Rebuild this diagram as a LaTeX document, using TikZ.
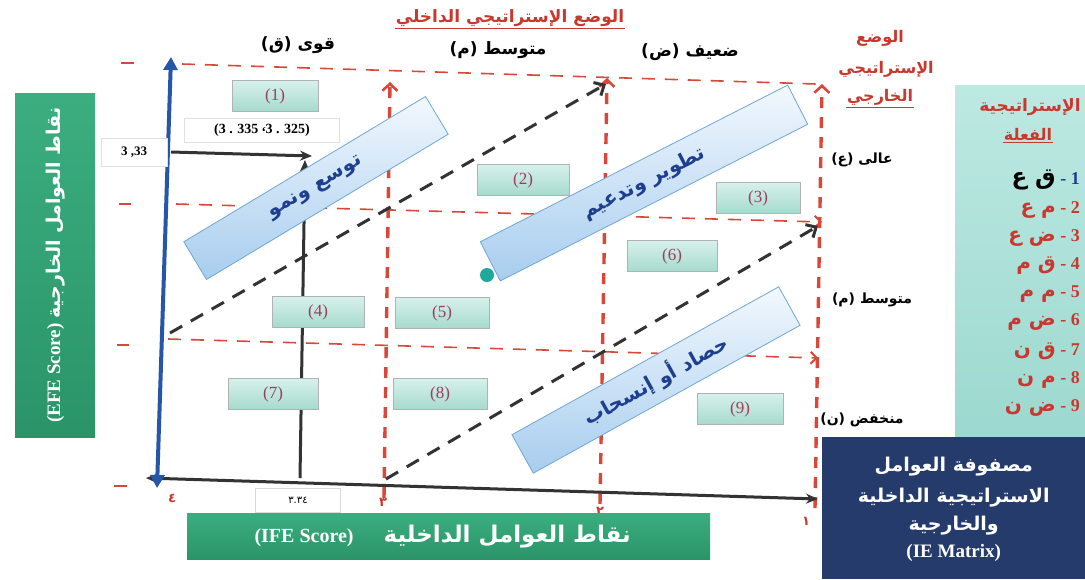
\documentclass[tikz,border=0pt]{standalone}
\usepackage{fontspec}
\setmainfont{Liberation Serif}
\newfontfamily\ar[Script=Arabic]{DejaVu Sans}
\TeXXeTstate=1
\usetikzlibrary{arrows.meta}
\definecolor{rd}{HTML}{D9473A}
\definecolor{rdtxt}{HTML}{C9382E}
\definecolor{bluax}{HTML}{2556A8}
\definecolor{axgray}{HTML}{333333}
\definecolor{cellA}{HTML}{D6F1EB}
\definecolor{cellB}{HTML}{A6DACE}
\definecolor{numc}{HTML}{9A3E5A}
\definecolor{banA}{HTML}{F2F8FE}
\definecolor{banB}{HTML}{A7CDEE}
\definecolor{banE}{HTML}{6FA6D6}
\definecolor{bantx}{HTML}{1E3F8E}
\definecolor{grnA}{HTML}{2A9468}
\definecolor{grnB}{HTML}{3BAE80}
\definecolor{navy}{HTML}{243B6C}
\definecolor{legA}{HTML}{BDE9E2}
\definecolor{legB}{HTML}{9BD8CF}
\definecolor{dotc}{HTML}{1FA99A}
\newcommand\artx[1]{{\ar\bfseries\beginR #1\endR}}
\begin{document}
\begin{tikzpicture}[x=1pt,y=-1pt,
 hred/.style={draw=rd, line width=1.6pt, dash pattern=on 13pt off 10pt},
 hredtip/.style={hred, -{Straight Barb[length=6pt,width=12pt,line width=2pt]}},
 vred/.style={draw=rd, line width=3.4pt, dash pattern=on 11pt off 9pt, -{Straight Barb[length=7pt,width=15pt,line width=2.6pt]}},
 bdash/.style={draw=axgray, line width=3pt, dash pattern=on 14pt off 10pt, -{Straight Barb[length=8pt,width=15pt,line width=3pt]}},
 axisline/.style={draw=axgray, line width=3pt},
 cellbox/.style={draw=black!30, line width=0.6pt, top color=cellA, bottom color=cellB, minimum width=88pt, minimum height=31pt, inner sep=0pt, text=numc, font=\fontsize{17}{17}\selectfont},
 banner/.style={draw=banE, line width=0.8pt, top color=banA, bottom color=banB, minimum height=44pt, inner sep=0pt, text=bantx, font=\fontsize{20}{20}\selectfont},
 lbl/.style={inner sep=1pt, font=\fontsize{14}{14}\selectfont},
 collbl/.style={inner sep=1pt, font=\fontsize{17}{17}\selectfont},
 redlbl/.style={inner sep=1pt, text=rdtxt, font=\fontsize{15}{15}\selectfont},
 legrow/.style={anchor=east, inner sep=0pt, text=rdtxt, font=\fontsize{18}{18}\selectfont\bfseries},
 tickred/.style={draw=rd, line width=2.6pt},
 numred/.style={inner sep=0pt, text=rdtxt, font=\fontsize{13}{13}\selectfont\bfseries}
]
\useasboundingbox (0,0) rectangle (1085,579);
\fill[white] (0,0) rectangle (1085,579);

% ---------- red grid ----------
\coordinate (h1a) at (182,64);  \coordinate (h1b) at (816,84);
\coordinate (h2a) at (176,204); \coordinate (h2b) at (822,222);
\coordinate (h3a) at (168,339); \coordinate (h3b) at (818,358);
\draw[hred] (h1a) -- (h1b);
\draw[hredtip] (h2a) -- (h2b);
\draw[hredtip] (h3a) -- (h3b);
\coordinate (v1a) at (384,498); \coordinate (v1b) at (390,82);
\coordinate (v2a) at (600,504); \coordinate (v2b) at (607,78);
\coordinate (v3a) at (815,508); \coordinate (v3b) at (822,84);
\draw[vred] (v1a) -- (v1b);
\draw[vred] (v2a) -- (v2b);
\draw[vred] (v3a) -- (v3b);

% left red ticks
\draw[tickred] (121,63) -- (134,63);
\draw[tickred] (119,204) -- (131,204);
\draw[tickred] (117,345) -- (129,345);
\draw[tickred] (114,486) -- (127,486);

% ---------- axes ----------
\coordinate (xl) at (146,478); \coordinate (xr) at (818,499);
\draw[axisline, {Stealth[length=12pt,width=10pt]}-{Stealth[length=12pt,width=10pt]}] (xl) -- (xr);
\coordinate (yt) at (171,57); \coordinate (yb) at (157,488);
\draw[draw=bluax, line width=4pt, {Triangle[length=13pt,width=14pt]}-{Triangle[length=13pt,width=14pt]}] (yb) -- (yt);

% axis digits
\node[numred] (n4) at (172,498) {\ar ٤};
\node[numred] (n3) at (383,502) {\ar ٣};
\node[numred] (n2) at (600,511) {\ar ٢};
\node[numred] (n1) at (806,521) {\ar ١};

% 3.34 box
\node[draw=black!15, fill=white, minimum width=85pt, minimum height=24pt, inner sep=0pt, font=\fontsize{10}{10}\selectfont] (x334) at (298,500) {\ar ٣.٣٤};

% ---------- black dashed diagonals ----------
\coordinate (d1a) at (170,333); \coordinate (d1b) at (606,84);
\coordinate (d2a) at (386,479); \coordinate (d2b) at (818,226);
\draw[bdash] (d1a) -- (d1b);
\draw[bdash] (d2a) -- (d2b);

% ---------- 3,33 pointer ----------
\node[draw=black!12, fill=white, minimum width=66pt, minimum height=28pt, inner sep=0pt, font=\fontsize{13}{13}\selectfont\bfseries] (y333) at (134,152) {3 ,33};
\coordinate (p0) at (171,152); \coordinate (p1) at (312,156);
\draw[axisline, -{Stealth[length=12pt,width=10pt]}] (p0) -- (p1);
\coordinate (q0) at (300,478); \coordinate (q1) at (305,160);
\draw[axisline, -{Stealth[length=12pt,width=10pt]}] (q0) -- (q1);
\node[draw=black!12, fill=white, minimum width=155pt, minimum height=24pt, inner sep=0pt, font=\fontsize{14}{14}\selectfont\bfseries] (pt) at (262,130) {(3 . 335 \raisebox{0.55ex}{\rotatebox{180}{,}}3 . 325)};

% ---------- banners ----------
\node[banner, minimum width=282pt, rotate=31] (b1) at (316,188) {\artx{توسع ونمو}};
\node[banner, minimum width=345pt, rotate=27] (b2) at (644,183) {\artx{تطوير وتدعيم}};
\node[banner, minimum width=305pt, rotate=29] (b3) at (656,380) {\artx{حصاد أو إنسحاب}};

% teal dot
\fill[dotc] (487,275) circle (7);

% ---------- cells ----------
\node[cellbox, minimum width=86pt] (c1) at (275,96) {(1)};
\node[cellbox, minimum width=92pt] (c2) at (523,180) {(2)};
\node[cellbox, minimum width=84pt] (c3) at (758,198) {(3)};
\node[cellbox, minimum width=92pt] (c4) at (318,312) {(4)};
\node[cellbox, minimum width=94pt] (c5) at (442,313) {(5)};
\node[cellbox, minimum width=90pt] (c6) at (672,256) {(6)};
\node[cellbox, minimum width=90pt] (c7) at (273,394) {(7)};
\node[cellbox, minimum width=94pt] (c8) at (440,394) {(8)};
\node[cellbox, minimum width=86pt] (c9) at (740,409) {(9)};

% ---------- headings ----------
\node[redlbl, font=\fontsize{17}{17}\selectfont] (hdr) at (510,18) {\artx{الوضع الإستراتيجي الداخلي}};
\draw[rdtxt, line width=1.2pt] ([yshift=-1pt]hdr.south west) -- ([yshift=-1pt]hdr.south east);
\node[collbl] (colq) at (298,45) {\artx{قوى (ق)}};
\node[collbl] (colm) at (498,50) {\artx{متوسط (م)}};
\node[collbl] (cold) at (690,52) {\artx{ضعيف (ض)}};

\node[redlbl, font=\fontsize{16}{16}\selectfont] (ext1) at (880,38) {\artx{الوضع}};
\node[redlbl, font=\fontsize{16}{16}\selectfont] (ext2) at (886,69) {\artx{الإستراتيجي}};
\node[redlbl, font=\fontsize{16}{16}\selectfont] (ext3) at (880,97) {\artx{الخارجي}};
\draw[rdtxt, line width=1.2pt] ([yshift=-1pt]ext3.south west) -- ([yshift=-1pt]ext3.south east);

\node[lbl] (rowh) at (862,160) {\artx{عالى (ع)}};
\node[lbl] (rowm) at (872,300) {\artx{متوسط (م)}};
\node[lbl] (rowl) at (862,420) {\artx{منخفض (ن)}};

% ---------- legend ----------
\node[draw=none, top color=legA, bottom color=legB, minimum width=132pt, minimum height=362pt, inner sep=0pt, anchor=north west] (leg) at (955,85) {};
\node[redlbl, font=\fontsize{17}{17}\selectfont] (legt1) at (1030,107) {\artx{الإستراتيجية}};
\node[redlbl, font=\fontsize{16}{16}\selectfont] (legt2) at (1028,134) {\artx{الفعلة}};
\draw[rdtxt, line width=1pt] ([yshift=-1pt]legt2.south west) -- ([yshift=-1pt]legt2.south east);
\node[legrow] (r1) at (1080,180) {\beginR 1 - {\color{bantx}\ar\bfseries\fontsize{23}{23}\selectfont ق ع}\endR};
\node[legrow] (r2) at (1080,210) {\beginR 2 - {\ar\bfseries\fontsize{20}{20}\selectfont م ع}\endR};
\node[legrow] (r3) at (1080,238) {\beginR 3 - {\ar\bfseries\fontsize{20}{20}\selectfont ض ع}\endR};
\node[legrow] (r4) at (1080,266) {\beginR 4 - {\ar\bfseries\fontsize{20}{20}\selectfont ق م}\endR};
\node[legrow] (r5) at (1080,294) {\beginR 5 - {\ar\bfseries\fontsize{20}{20}\selectfont م م}\endR};
\node[legrow] (r6) at (1080,322) {\beginR 6 - {\ar\bfseries\fontsize{20}{20}\selectfont ض م}\endR};
\node[legrow] (r7) at (1080,351) {\beginR 7 - {\ar\bfseries\fontsize{20}{20}\selectfont ق ن}\endR};
\node[legrow] (r8) at (1080,380) {\beginR 8 - {\ar\bfseries\fontsize{20}{20}\selectfont م ن}\endR};
\node[legrow] (r9) at (1080,408) {\beginR 9 - {\ar\bfseries\fontsize{20}{20}\selectfont ض ن}\endR};

% ---------- green bars ----------
\node[top color=grnB, bottom color=grnA, minimum width=80pt, minimum height=344pt, inner sep=0pt, anchor=north west] (gl) at (15,93) {};
\node[rotate=90, text=white, font=\fontsize{19}{19}\selectfont\bfseries] (glt) at (gl.center) {(EFE Score) \artx{نقاط العوامل الخارجية}};
\node[top color=grnB, bottom color=grnA, minimum width=523pt, minimum height=46pt, inner sep=0pt, anchor=north west] (gb) at (187,513) {};
\node[text=white, font=\fontsize{20}{20}\selectfont\bfseries] (gbt) at ([xshift=-6pt]gb.center) {(IFE Score)\hspace{30pt}{\fontsize{23}{23}\selectfont\artx{نقاط العوامل الداخلية}}};

% ---------- navy box ----------
\node[fill=navy, minimum width=263pt, minimum height=142pt, inner sep=0pt, anchor=north west] (ie) at (822,437) {};
\node[text=white, align=center, font=\fontsize{19}{31}\selectfont\bfseries] (iet) at ([yshift=-1pt]ie.center) {\artx{مصفوفة العوامل}\\\artx{الاستراتيجية الداخلية}\\[-3pt]\artx{والخارجية}\\[-4pt]{\fontsize{19}{19}\selectfont (IE Matrix)}};
\end{tikzpicture}
\end{document}
